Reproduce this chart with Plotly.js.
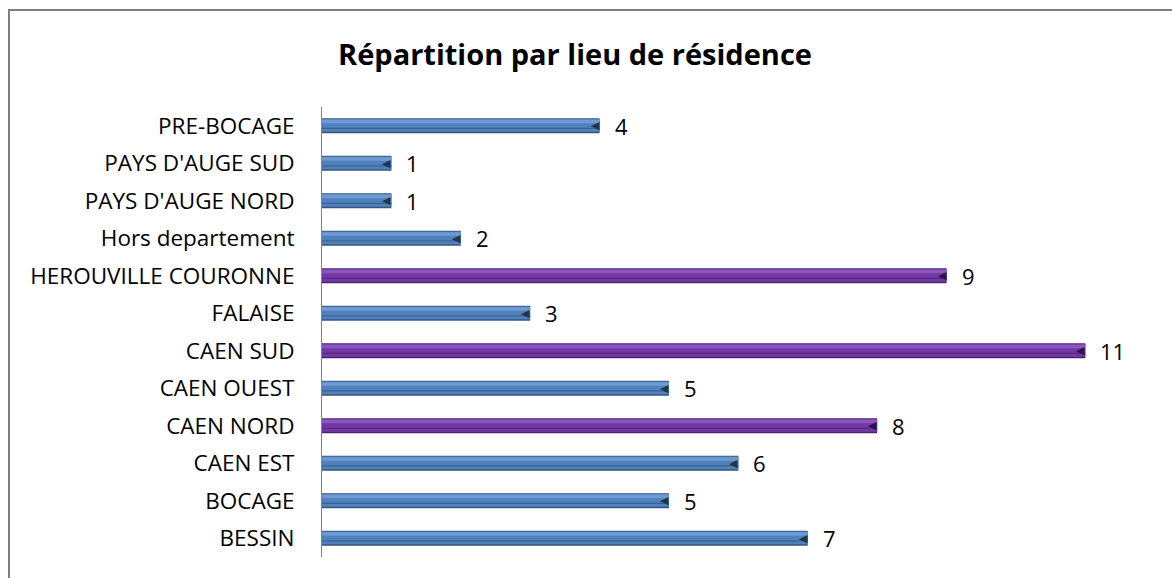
<!DOCTYPE html>
<html>
<head>
<meta charset="utf-8">
<script src="https://cdn.plot.ly/plotly-3.0.1.min.js"></script>
<style>
html,body{margin:0;padding:0;background:#fff;}
#wrap{position:relative;width:1172px;height:578px;overflow:hidden;}
#chart{width:1172px;height:578px;}
#frame{position:absolute;left:8px;top:9px;width:2000px;height:2000px;border-left:2px solid #808080;border-top:2px solid #808080;pointer-events:none;}
</style>
</head>
<body>
<div id="wrap"><div id="chart"></div><div id="frame"></div></div>
<script>
// Data (bottom to top)
const categories = ["BESSIN","BOCAGE","CAEN EST","CAEN NORD","CAEN OUEST","CAEN SUD","FALAISE","HEROUVILLE COURONNE","Hors departement","PAYS D'AUGE NORD","PAYS D'AUGE SUD","PRE-BOCAGE"];
const values = [7,5,6,8,5,11,3,9,2,1,1,4];
const highlighted = ["CAEN NORD","CAEN SUD","HEROUVILLE COURONNE"];

const isHi = categories.map(c => highlighted.includes(c));
const pick = (hi, lo) => isHi.map(h => h ? hi : lo);

const FONT = "Open Sans, Liberation Sans, sans-serif";
function layer(width, offset, colors) {
  return {
    type: "bar", orientation: "h", x: values, y: categories,
    width: width, offset: offset,
    marker: {color: colors, line: {width: 0}},
    hoverinfo: "skip", showlegend: false
  };
}
const traces = [
  layer(0.40, -0.20, pick("#4a2470", "#34557f")),
  layer(0.34, -0.16, pick("#7238a6", "#4f81bd")),
  layer(0.09, 0.07, pick("#8a55bd", "#6f9ad2")),
  layer(0.035, -0.085, pick("#56297f", "#3b6391"))
];

const capColors = pick("#2e1247", "#1f3550");
const annotations = [];
categories.forEach((c, i) => {
  annotations.push({
    x: values[i], y: c, xref: "x", yref: "y",
    text: String(values[i]), showarrow: false,
    xanchor: "left", yanchor: "middle", xshift: 13,
    font: {family: FONT, size: 22, color: "#000"}
  });
  annotations.push({
    x: values[i], y: c, xref: "x", yref: "y",
    text: "◀", showarrow: false,
    xanchor: "right", yanchor: "middle", xshift: 1, yshift: 0,
    borderpad: 0,
    font: {family: "DejaVu Sans", size: 11, color: capColors[i]}
  });
});

const layout = {
  width: 1172, height: 578,
  margin: {l: 322, r: 52, t: 107, b: 21},
  paper_bgcolor: "#fff", plot_bgcolor: "#fff",
  barmode: "overlay",
  title: {
    text: "<b>Répartition par lieu de résidence</b>",
    font: {family: FONT, size: 29, color: "#000"},
    x: 0.4906, xref: "container", xanchor: "center",
    y: 1 - 55/578, yref: "container", yanchor: "middle"
  },
  xaxis: {range: [0, 11.5], visible: false, fixedrange: true},
  yaxis: {
    type: "category", categoryarray: categories, categoryorder: "array",
    showline: true, linecolor: "#808080", linewidth: 1,
    showgrid: false, zeroline: false, ticks: "",
    ticklabelstandoff: 22,
    tickfont: {family: FONT, size: 22.5, color: "#000"},
    fixedrange: true
  },
  annotations: annotations
};

Plotly.newPlot("chart", traces, layout, {displayModeBar: false, staticPlot: true});
</script>
</body>
</html>
